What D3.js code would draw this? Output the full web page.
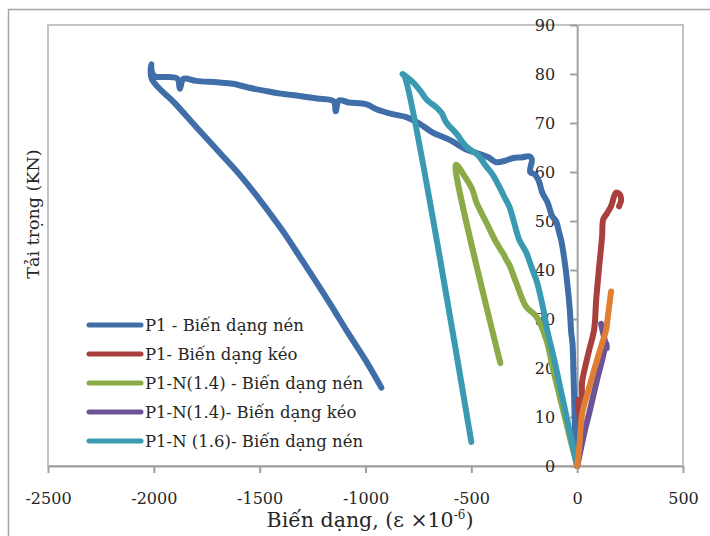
<!DOCTYPE html>
<html>
<head>
<meta charset="utf-8">
<script src="https://cdn.jsdelivr.net/npm/d3@7"></script>
<style>
  body { margin: 0; background: #fff; }
  svg { display: block; font-family: "DejaVu Serif", serif; }
</style>
</head>
<body>
<svg id="chart" width="710" height="536"></svg>
<script>
// series: [strain, load]
const p1Nen = [
  [0, 0], [-8, 5], [-12, 10], [-14, 13.5], [-18, 20], [-22, 25], [-28, 27.2], [-35, 32],
  [-47, 37.4], [-60, 42], [-75, 46], [-85, 47.6], [-100, 50], [-118, 51], [-140, 53.8],
  [-165, 55.8], [-180, 58], [-200, 59.5], [-222, 60], [-214, 62.6], [-226, 63.2],
  [-260, 63], [-306, 62.8], [-340, 62.3], [-382, 62], [-420, 63], [-470, 63.8],
  [-524, 64.6], [-600, 66.5], [-684, 68.1], [-750, 70], [-807, 71.2], [-872, 71.8],
  [-948, 72.8], [-995, 73.8], [-1080, 74.2], [-1125, 74.6], [-1141, 72.4], [-1150, 74.4],
  [-1230, 75], [-1311, 75.5], [-1400, 76], [-1467, 76.5], [-1550, 77.2], [-1627, 78],
  [-1700, 78.3], [-1800, 78.6], [-1860, 79], [-1877, 77], [-1888, 79], [-1950, 79.4],
  [-1995, 79.5], [-2010, 80.5], [-2012, 82], [-2010, 79],
  [-1900, 74], [-1800, 69.2], [-1690, 64], [-1580, 58.7], [-1400, 48.5], [-1300, 42],
  [-1170, 33.3], [-1080, 27], [-1000, 21.6], [-925, 16]
];
const p1Keo = [
  [0, 0], [8, 2], [15, 5], [12, 10], [5, 13.5], [20, 13], [23, 17], [42, 21], [57, 23.7],
  [80, 27.8], [90, 34], [104, 40.7], [118, 47], [123, 50.3], [140, 51.5], [160, 53],
  [184, 55.8], [200, 55.5], [208, 54.4], [198, 53]
];
const p1N14Nen = [
  [0, 0], [-30, 5], [-70, 12], [-110, 19], [-146, 25.8], [-193, 30.5], [-241, 32.5],
  [-288, 37.4], [-320, 41], [-335, 42.1], [-345, 43], [-382, 45.6], [-429, 49.7],
  [-476, 53.8], [-495, 56.4], [-530, 59], [-571, 61.5], [-575, 61], [-363, 21]
];
const p1N14Keo = [
  [0, 0], [15, 3], [35, 7], [57, 10.8], [94, 17.6], [120, 22], [137, 25.1], [140, 24],
  [113, 29]
];
const p1N16Nen = [
  [0, 0], [-20, 4], [-50, 10], [-80, 16], [-110, 22], [-142, 27.8], [-160, 32],
  [-189, 37.4], [-215, 40.5], [-241, 43.6], [-274, 46.2], [-300, 50], [-321, 53],
  [-345, 55], [-368, 57], [-400, 59.5], [-429, 61.1], [-470, 63.5], [-524, 65.2],
  [-570, 67.8], [-618, 70.1], [-640, 72], [-660, 73], [-712, 74.8], [-740, 76.5],
  [-780, 78.5], [-825, 80], [-815, 79.5], [-500, 4.9]
];
const extraSeries = [
  [0, 0], [10, 4], [24, 10.8], [50, 15], [80, 19.6], [118, 25.1], [137, 27.8],
  [145, 30.5], [160, 35.6]
];

const seriesNames = [
  "P1 - Biến dạng nén",
  "P1- Biến dạng kéo",
  "P1-N(1.4) - Biến dạng nén",
  "P1-N(1.4)- Biến dạng kéo",
  "P1-N (1.6)- Biến dạng nén",
  ""
];
const seriesData = [p1Nen, p1Keo, p1N14Nen, p1N14Keo, p1N16Nen, extraSeries];
const colors = ["#3f6ea8", "#a8403d", "#8aab47", "#6c5396", "#3a9ab2", "#e07f33"];

const xTicks = [-2500, -2000, -1500, -1000, -500, 0, 500];
const yTicks = [0, 10, 20, 30, 40, 50, 60, 70, 80, 90];

const svg = d3.select("#chart");
const plot = { left: 48, right: 683, top: 25, bottom: 466 };

// outer chart border
svg.append("rect")
  .attr("x", 8.5).attr("y", 9.5).attr("width", 720).attr("height", 540)
  .attr("fill", "none").attr("stroke", "#a6a6a6").attr("stroke-width", 1.5);

// plot area border
svg.append("rect")
  .attr("x", plot.left).attr("y", plot.top)
  .attr("width", plot.right - plot.left).attr("height", plot.bottom - plot.top)
  .attr("fill", "none").attr("stroke", "#c3c3c3").attr("stroke-width", 2);

const x = d3.scaleLinear().domain([-2500, 500]).range([plot.left, plot.right]);
const y = d3.scaleLinear().domain([0, 90]).range([plot.bottom, plot.top]);

const xAxis = svg.append("g")
  .attr("transform", `translate(0,${y(0)})`)
  .call(d3.axisBottom(x).tickValues(xTicks).tickFormat(d => String(d))
    .tickSize(7).tickSizeOuter(0).tickPadding(20));

const yAxis = svg.append("g")
  .attr("transform", `translate(${x(0)},0)`)
  .call(d3.axisLeft(y).tickValues(yTicks).tickFormat(d => String(d))
    .tickSize(7).tickSizeOuter(0).tickPadding(15));

[xAxis, yAxis].forEach(g => {
  g.select(".domain").attr("stroke", "#a0a0a0").attr("stroke-width", 2);
  g.selectAll(".tick line").attr("stroke", "#a0a0a0").attr("stroke-width", 2);
  g.selectAll(".tick text")
    .attr("fill", "#262626")
    .style("font-family", "DejaVu Serif, serif")
    .style("font-size", "16px");
});

const line = d3.line()
  .x(d => x(d[0]))
  .y(d => y(d[1]))
  .curve(d3.curveCatmullRom.alpha(0.5));

svg.append("g")
  .selectAll("path")
  .data(seriesData)
  .enter()
  .append("path")
  .attr("d", d => line(d))
  .attr("fill", "none")
  .attr("stroke", (d, i) => colors[i])
  .attr("stroke-width", 6)
  .attr("stroke-linejoin", "round")
  .attr("stroke-linecap", "round");

// legend
const legend = svg.append("g")
  .selectAll("g")
  .data(seriesNames.slice(0, 5))
  .enter()
  .append("g")
  .attr("transform", (d, i) => `translate(89,${325 + i * 29})`);

legend.append("line")
  .attr("x1", 0).attr("x2", 52)
  .attr("stroke", (d, i) => colors[i])
  .attr("stroke-width", 5)
  .attr("stroke-linecap", "round");

legend.append("text")
  .text(d => d)
  .attr("x", 56)
  .attr("dy", "0.35em")
  .attr("fill", "#262626")
  .style("font-size", "16.5px");

// axis titles
svg.append("text")
  .attr("x", 370).attr("y", 527)
  .attr("text-anchor", "middle")
  .attr("fill", "#262626")
  .style("font-size", "20.5px")
  .html("Biến dạng, (ε ×10<tspan dy='-8' font-size='12'>-6</tspan><tspan dy='8'>)</tspan>");

svg.append("text")
  .attr("transform", "translate(39,214) rotate(-90)")
  .attr("text-anchor", "middle")
  .attr("fill", "#262626")
  .style("font-size", "17.5px")
  .text("Tải trọng (KN)");
</script>
</body>
</html>
